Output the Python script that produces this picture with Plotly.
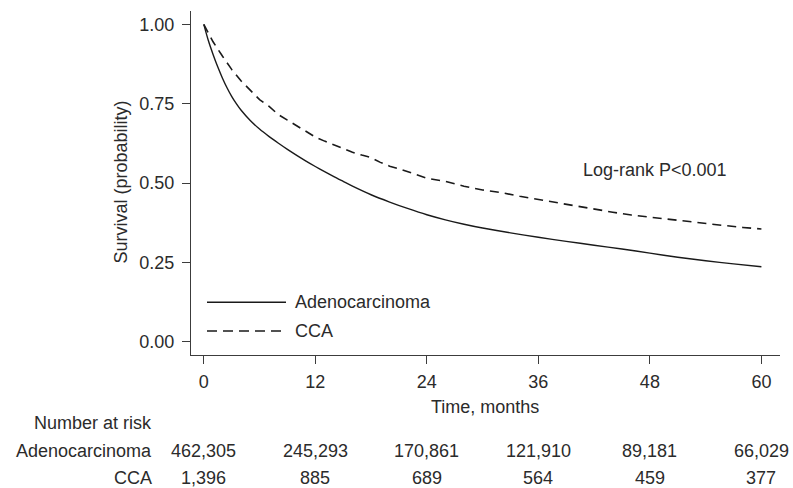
import plotly.graph_objects as go

# ---------------- data ----------------
months_adeno = [0, 0.5, 1, 1.5, 2, 2.5, 3, 3.5, 4, 5, 6, 7, 8, 9, 10, 11, 12, 13, 14, 15, 16,
                18, 20, 22, 24, 26, 28, 30, 33, 36, 39, 42, 45, 48, 51, 54, 57, 60]
surv_adeno = [1.0, 0.948, 0.905, 0.866, 0.831, 0.80, 0.773, 0.75, 0.73, 0.697, 0.67, 0.647,
              0.626, 0.606, 0.587, 0.569, 0.552, 0.536, 0.52, 0.505, 0.49,
              0.463, 0.44, 0.419, 0.40, 0.384, 0.37, 0.358, 0.343, 0.329, 0.316, 0.304,
              0.292, 0.279, 0.266, 0.255, 0.245, 0.236]

months_cca = [0, 0.5, 1, 2, 3, 4, 5, 6, 7, 8, 9, 10, 11, 12, 13, 14, 15, 16, 17, 18, 19,
              20, 21, 22, 23, 24, 26, 28, 30, 32, 34, 36, 38, 40, 42, 44, 46, 48, 50, 52,
              54, 56, 58, 60]
surv_cca = [1.0, 0.97, 0.945, 0.9, 0.858, 0.822, 0.793, 0.763, 0.742, 0.716, 0.698, 0.68,
            0.663, 0.645, 0.632, 0.62, 0.608, 0.597, 0.588, 0.58, 0.565, 0.553, 0.545,
            0.535, 0.523, 0.515, 0.505, 0.49, 0.478, 0.47, 0.458, 0.448, 0.436, 0.428,
            0.418, 0.408, 0.399, 0.392, 0.386, 0.378, 0.372, 0.366, 0.36, 0.355]

risk_times = [0, 12, 24, 36, 48, 60]
risk_adeno = ["462,305", "245,293", "170,861", "121,910", "89,181", "66,029"]
risk_cca = ["1,396", "885", "689", "564", "459", "377"]
group_names = ["Adenocarcinoma", "CCA"]
y_ticks = [0, 0.25, 0.5, 0.75, 1.0]
y_ticklabels = ["0.00", "0.25", "0.50", "0.75", "1.00"]

# ---------------- layout helpers ----------------
W, H = 793, 488
ML, MR, MT, MB = 191, 13, 11, 133
PW, PH = W - ML - MR, H - MT - MB
FONT = "Liberation Sans, Arial, Helvetica, sans-serif"
TXT = "#2b2b2b"
AX = "#3c3c3c"
FS = 18


def px(x):
    return (x - ML) / PW


def py(y):
    return (H - MB - y) / PH


fig = go.Figure()
fig.add_trace(go.Scatter(x=months_adeno, y=surv_adeno, mode="lines", line_shape="spline",
                         line=dict(color="#1a1a1a", width=1.4, smoothing=0.6),
                         name=group_names[0], showlegend=False))
fig.add_trace(go.Scatter(x=months_cca, y=surv_cca, mode="lines",
                         line=dict(color="#1a1a1a", width=1.6, dash="9px,6px"),
                         name=group_names[1], showlegend=False))

annotations = []
annotations.append(dict(text="Survival (probability)", x=px(120), y=py(182.5), xref="paper",
                        yref="paper", textangle=-90, showarrow=False, xanchor="center",
                        yanchor="middle", font=dict(size=FS, color=TXT, family=FONT)))
annotations.append(dict(text="Time, months", x=px(485), y=py(406.7), xref="paper", yref="paper",
                        showarrow=False, xanchor="center", yanchor="middle",
                        font=dict(size=FS, color=TXT, family=FONT)))
annotations.append(dict(text="Log-rank P<0.001", x=px(581), y=py(170), xref="paper", yref="paper",
                        showarrow=False, xanchor="left", yanchor="middle",
                        font=dict(size=FS, color=TXT, family=FONT)))
for name, yy in zip(group_names, [302.3, 331]):
    annotations.append(dict(text=name, x=px(292.5), y=py(yy), xref="paper", yref="paper",
                            showarrow=False, xanchor="left", yanchor="middle",
                            font=dict(size=FS, color=TXT, family=FONT)))
annotations.append(dict(text="Number at risk", x=px(153.5), y=py(423.3), xref="paper",
                        yref="paper", showarrow=False, xanchor="right", yanchor="middle",
                        font=dict(size=FS, color=TXT, family=FONT)))
for name, vals, yy in zip(group_names, [risk_adeno, risk_cca], [451, 477.7]):
    annotations.append(dict(text=name, x=px(153.5), y=py(yy), xref="paper", yref="paper",
                            showarrow=False, xanchor="right", yanchor="middle",
                            font=dict(size=FS, color=TXT, family=FONT)))
    for t, v in zip(risk_times, vals):
        annotations.append(dict(text=v, x=t, y=py(yy), xref="x", yref="paper",
                                showarrow=False, xanchor="center", yanchor="middle",
                                font=dict(size=FS, color=TXT, family=FONT)))

shapes = [
    dict(type="line", xref="paper", yref="paper", x0=px(207), x1=px(286), y0=py(302.3),
         y1=py(302.3), line=dict(color="#1a1a1a", width=1.4)),
    dict(type="line", xref="paper", yref="paper", x0=px(207), x1=px(286), y0=py(331),
         y1=py(331), line=dict(color="#1a1a1a", width=1.6, dash="10px,6px")),
]

fig.update_layout(
    width=W, height=H,
    margin=dict(l=ML, r=MR, t=MT, b=MB, pad=0),
    paper_bgcolor="white", plot_bgcolor="white",
    font=dict(family=FONT, size=FS, color=TXT),
    annotations=annotations, shapes=shapes,
    xaxis=dict(range=[-1.375, 62], tickvals=risk_times, ticktext=[str(t) for t in risk_times],
               showline=True, linecolor=AX, linewidth=1.2, ticks="outside", ticklen=8,
               tickcolor=AX, tickwidth=1.2, showgrid=False, zeroline=False,
               ticklabelstandoff=2,
               tickfont=dict(size=FS, color=TXT, family=FONT)),
    yaxis=dict(range=[-0.042, 1.042], tickvals=y_ticks, ticktext=y_ticklabels,
               showline=True, linecolor=AX, linewidth=1.2, ticks="outside", ticklen=8,
               tickcolor=AX, tickwidth=1.2, showgrid=False, zeroline=False,
               ticklabelstandoff=4,
               tickfont=dict(size=FS, color=TXT, family=FONT)),
    showlegend=False,
)

fig.write_html("out.html", config={"displayModeBar": False},
               post_script="document.body.style.margin='0';")
